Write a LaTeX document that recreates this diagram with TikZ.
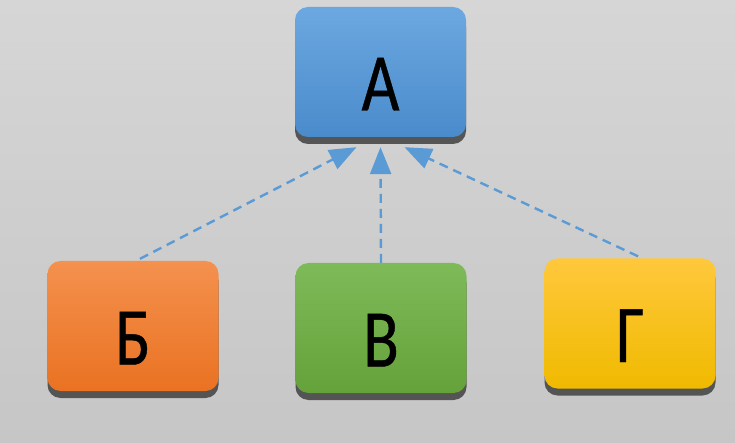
\documentclass[tikz,border=0pt]{standalone}
\usepackage{fontspec}
\setmainfont{Carlito}
\newfontfamily\labelfont[UprightFeatures={FakeBold=0.6}]{Carlito}
\usepackage{xcolor}
\usepackage{tikz}
\usetikzlibrary{arrows.meta, shadows}
\definecolor{bgtop}{RGB}{214,214,214}
\definecolor{bgbot}{RGB}{198,198,198}
\definecolor{linkblue}{RGB}{91,155,213}
\definecolor{blueTop}{RGB}{108,168,224}
\definecolor{blueBot}{RGB}{74,139,204}
\definecolor{orangeTop}{RGB}{244,145,78}
\definecolor{orangeBot}{RGB}{234,114,34}
\definecolor{greenTop}{RGB}{126,186,88}
\definecolor{greenBot}{RGB}{102,162,58}
\definecolor{yellowTop}{RGB}{255,200,60}
\definecolor{yellowBot}{RGB}{240,186,0}
\newcommand{\boxlabel}[1]{\scalebox{0.8}[1]{#1}}
\tikzset{
	box/.style={rounded corners=13pt, minimum width=171pt, minimum height=130pt, inner sep=0pt,
		text height=77pt, text depth=0pt, font=\labelfont\fontsize{82}{82}\selectfont,
		drop shadow={shadow xshift=0pt, shadow yshift=-7pt, fill=black!75, opacity=.85}},
	link/.style={draw=linkblue, line width=2.4pt, dash pattern=on 9pt off 6pt,
		-{Triangle[width=21pt,length=27pt]}}
}

\begin{document}
\begin{tikzpicture}[x=1pt, y=-1pt]
				\shade[top color=bgtop, bottom color=bgbot] (0,0) rectangle (735,443);
				\useasboundingbox (0,0) rectangle (735,443);
				\node[box, top color=blueTop, bottom color=blueBot](nodeA) at (380.5,72){\boxlabel{А}};
				\node[box, top color=orangeTop, bottom color=orangeBot](nodeB) at (133,326){\boxlabel{Б}};
				\node[box, top color=greenTop, bottom color=greenBot](nodeV) at (381,328){\boxlabel{В}};
				\node[box, top color=yellowTop, bottom color=yellowBot](nodeG) at (630,323.5){\boxlabel{Г}};
				\draw[link] ([xshift=7pt, yshift=2pt]nodeB.north) -- ([xshift=-24pt, yshift=-10pt]nodeA.south);
				\draw[link] (nodeV.north) -- ([yshift=-10pt]nodeA.south);
				\draw[link] ([xshift=8pt, yshift=2pt]nodeG.north) -- ([xshift=24pt, yshift=-10pt]nodeA.south);
			\end{tikzpicture}
\end{document}
